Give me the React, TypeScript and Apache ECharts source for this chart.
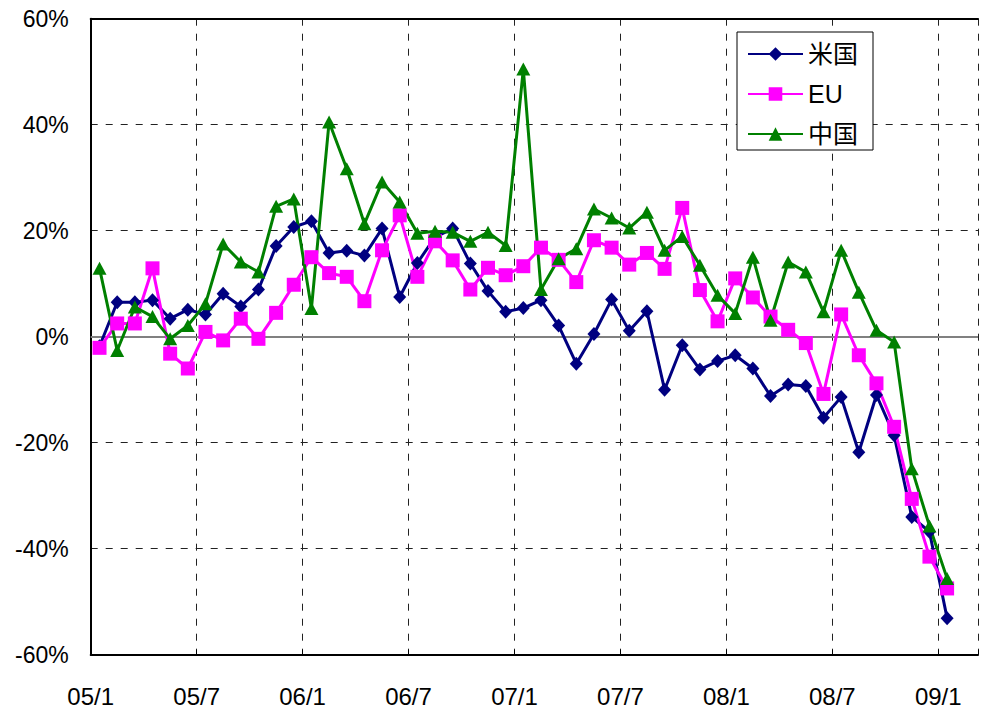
import React, { useEffect, useRef } from 'react';
import * as echarts from 'echarts';

const months = [
  '05/1', '05/2', '05/3', '05/4', '05/5', '05/6', '05/7', '05/8', '05/9', '05/10', '05/11', '05/12',
  '06/1', '06/2', '06/3', '06/4', '06/5', '06/6', '06/7', '06/8', '06/9', '06/10', '06/11', '06/12',
  '07/1', '07/2', '07/3', '07/4', '07/5', '07/6', '07/7', '07/8', '07/9', '07/10', '07/11', '07/12',
  '08/1', '08/2', '08/3', '08/4', '08/5', '08/6', '08/7', '08/8', '08/9', '08/10', '08/11', '08/12',
  '09/1',
];

const tickLabels = ['05/1', '05/7', '06/1', '06/7', '07/1', '07/7', '08/1', '08/7', '09/1'];
const yTicks = [-60, -40, -20, 0, 20, 40, 60];

const usValues = [
  -1.8, 6.5, 6.5, 6.9, 3.4, 5.1, 4.2, 8.1, 5.7, 8.9, 17.1, 20.7,
  21.8, 15.8, 16.2, 15.3, 20.4, 7.5, 13.9, 18.8, 20.4, 13.8, 8.6, 4.7,
  5.4, 6.9, 2.1, -5.1, 0.5, 7.0, 1.1, 4.8, -10.0, -1.6, -6.2, -4.6,
  -3.5, -6.0, -11.2, -9.0, -9.3, -15.3, -11.4, -21.8, -11.0, -18.6, -34.0, -36.8,
  -53.1,
];

const euValues = [
  -2.1, 2.5, 2.5, 12.9, -3.2, -6.0, 0.9, -0.7, 3.4, -0.4, 4.5, 9.8,
  15.0, 12.0, 11.3, 6.7, 16.3, 22.9, 11.3, 18.0, 14.4, 8.9, 13.0, 11.6,
  13.3, 16.8, 14.5, 10.3, 18.2, 16.8, 13.6, 15.8, 12.8, 24.3, 8.8, 2.9,
  11.0, 7.4, 3.8, 1.3, -1.2, -10.8, 4.2, -3.5, -8.8, -17.0, -30.6, -41.5,
  -47.5,
];

const chinaValues = [
  12.9, -2.6, 5.6, 3.8, -0.4, 2.1, 6.2, 17.5, 14.1, 12.2, 24.6, 26.0,
  5.3, 40.5, 31.7, 21.3, 29.2, 25.4, 19.5, 19.9, 19.7, 18.0, 19.7, 17.2,
  50.5, 8.9, 14.7, 16.6, 24.1, 22.4, 20.5, 23.5, 16.3, 18.9, 13.5, 7.8,
  4.4, 15.0, 3.1, 14.1, 12.2, 4.7, 16.3, 8.4, 1.2, -1.0, -24.9, -35.7,
  -45.6,
];

const seriesNames = ['米国', 'EU', '中国'];
const FONT = "'Liberation Sans', Arial, 'Noto Sans CJK JP', sans-serif";

const toPoints = (vals: number[]) => vals.map((v, i) => [i + 0.5, v]);

export default function App() {
  const ref = useRef<HTMLDivElement>(null);

  useEffect(() => {
    if (!ref.current) return;
    const chart = echarts.init(ref.current, undefined, { renderer: 'svg' });
    const unit = 850 / 48;
    const xMax = 50.25;
    const gridColors = yTicks.map((t) => (t === 0 || t === 60 || t === -60 ? 'rgba(0,0,0,0)' : '#222'));

    chart.setOption({
      animation: false,
      backgroundColor: '#fff',
      textStyle: { fontFamily: FONT },
      grid: { left: 90.7, top: 18.7, width: unit * xMax, height: 636, containLabel: false },
      legend: {
        data: seriesNames,
        orient: 'vertical',
        left: 737,
        top: 32,
        itemWidth: 55,
        itemHeight: 17,
        itemGap: 14,
        padding: [9, 15, 3, 10],
        backgroundColor: '#fff',
        borderColor: '#000',
        borderWidth: 1,
        borderRadius: 0,
        textStyle: { fontSize: 25, color: '#000', lineHeight: 26, fontFamily: FONT },
      },
      xAxis: [
        {
          type: 'value',
          position: 'bottom',
          min: 0,
          max: xMax,
          interval: 6,
          axisLine: { show: true, onZero: false, lineStyle: { color: '#000', width: 2 } },
          axisTick: { show: true, inside: true, length: 5, lineStyle: { color: '#000', width: 1 } },
          axisLabel: {
            fontSize: 24,
            color: '#000',
            margin: 30,
            fontFamily: FONT,
            showMaxLabel: true,
            formatter: (v: number) => {
              const idx = v / 6;
              return Number.isInteger(idx) && idx < tickLabels.length ? tickLabels[idx] : '';
            },
          },
          splitLine: { show: true, lineStyle: { color: '#222', width: 1, type: [7, 8] } },
        },
        {
          type: 'value',
          position: 'top',
          min: 0,
          max: xMax,
          interval: 6,
          axisLine: { show: true, onZero: false, lineStyle: { color: '#000', width: 2 } },
          axisTick: { show: false },
          axisLabel: { show: false },
          splitLine: { show: false },
        },
      ],
      yAxis: {
        type: 'value',
        min: -60,
        max: 60,
        interval: 20,
        axisLine: { show: true, lineStyle: { color: '#000', width: 2 } },
        axisTick: { show: false },
        axisLabel: { fontSize: 23, color: '#000', margin: 22, fontFamily: FONT, formatter: '{value}%' },
        splitLine: { show: true, lineStyle: { color: gridColors, width: 1, type: [7, 8] } },
      },
      series: [
        {
          name: seriesNames[0],
          type: 'line',
          data: toPoints(usValues),
          symbol: 'diamond',
          symbolSize: [13, 14],
          lineStyle: { color: '#000080', width: 3 },
          itemStyle: { color: '#000080' },
          markLine: {
            silent: true,
            symbol: 'none',
            z: 1,
            label: { show: false },
            lineStyle: { color: '#808080', width: 2, type: 'solid' },
            data: [{ yAxis: 0 }],
          },
        },
        {
          name: seriesNames[1],
          type: 'line',
          data: toPoints(euValues),
          symbol: 'rect',
          symbolSize: 14,
          lineStyle: { color: '#FF00FF', width: 3 },
          itemStyle: { color: '#FF00FF' },
        },
        {
          name: seriesNames[2],
          type: 'line',
          data: toPoints(chinaValues),
          symbol: 'triangle',
          symbolSize: [14, 13],
          lineStyle: { color: '#008000', width: 3 },
          itemStyle: { color: '#008000' },
        },
      ],
    });

    return () => chart.dispose();
  }, []);

  return (
    <div
      ref={ref}
      data-months={months.length}
      style={{ position: 'fixed', left: 0, top: 0, width: 981, height: 712 }}
    />
  );
}
